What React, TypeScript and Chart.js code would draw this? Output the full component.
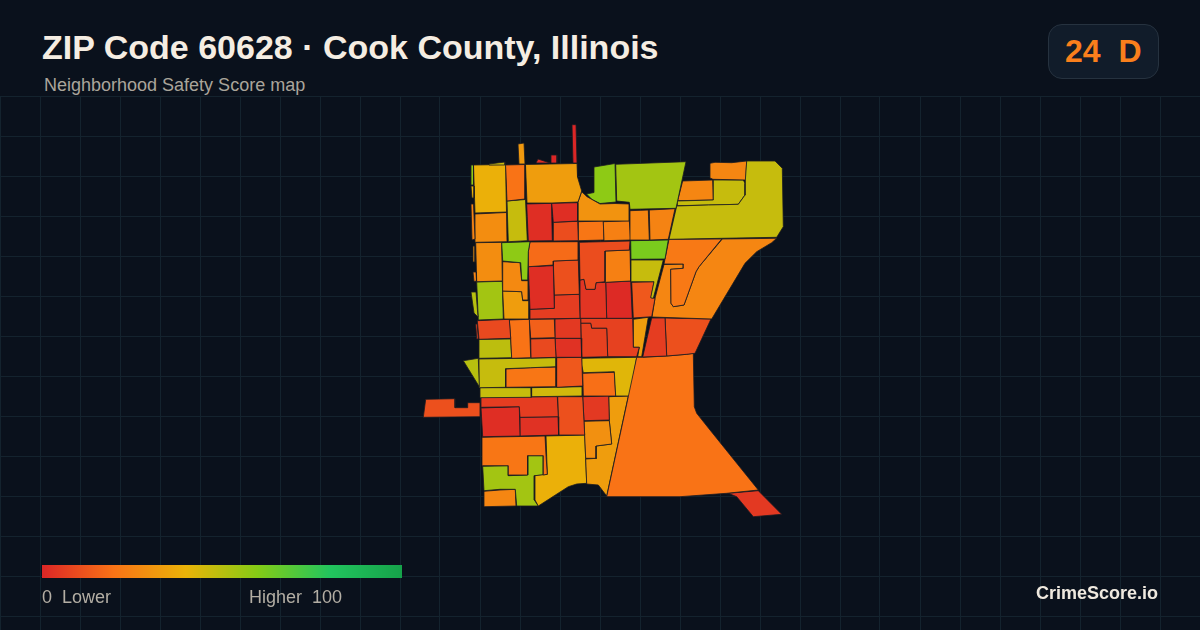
import React, { useEffect, useRef } from "react";
import { Chart, registerables } from "chart.js";

Chart.register(...registerables);

const gridColumnsStep = 40;
const gridRows = [96, 136, 176, 216, 256, 296, 336, 376, 416, 456, 496, 536, 576, 616];
const rampStops = ["#dc2626", "#f97316", "#eab308", "#84cc16", "#22c55e", "#16a34a"];
const title = "ZIP Code 60628 · Cook County, Illinois";
const subtitle = "Neighborhood Safety Score map";
const badge = "24  D";
const legendLow = "0  Lower";
const legendHigh = "Higher  100";
const brand = "CrimeScore.io";

// [safety score, boundary ring] per neighbourhood block, in map units
const tracts: [number, number[][]][] = [
  [58, [[471,165],[473.5,165],[473.5,185],[471,185]]],
  [40, [[471,186],[474,186],[474,198],[472,198]]],
  [46, [[489,164],[505,162],[505,165],[489,165]]],
  [39, [[473.5,165],[505.5,164.5],[506.5,212],[475,213]]],
  [20, [[505.5,165],[525,164.5],[525,199],[507,201]]],
  [32, [[518,144],[524,143],[525,164],[519,164]]],
  [2, [[536,163],[538,159],[550,163]]],
  [0, [[551,155],[557,155],[557,163],[551,163]]],
  [0, [[572,124.7],[576,124.7],[577,163],[573,163]]],
  [25, [[471,204],[473.5,204],[475,239],[472,240]]],
  [33, [[525.5,164.5],[577,163.5],[577.5,177],[581.7,191],[578,202],[552,203],[527,203]]],
  [30, [[473,246],[475,246],[475,262],[473,262]]],
  [25, [[473,272],[476,272],[476.5,281],[474,281.5]]],
  [50, [[471,292],[476,292],[478,317],[474,313]]],

  [28, [[475,214],[506.5,212.5],[507,241.7],[475.7,242.3]]],
  [47, [[507,201],[525.5,199.5],[527.3,240.7],[508.3,241.7]]],
  [2, [[526.7,204],[551.5,203.3],[552.3,240.7],[528.3,241]]],
  [2, [[551.7,203.3],[577.7,202.7],[577.7,221],[553.3,222.3]]],
  [10, [[553.3,222.3],[577.7,221.3],[578.3,240.7],[553.3,241]]],
  [30, [[578,202],[581.7,191.7],[587,196.7],[600,204],[615,203.5],[629.3,204],[629.3,221],[578,221]]],
  [58, [[594,167],[615,163.5],[616,202],[600,203.5],[592,199.5],[586.5,194],[594,192.5]]],
  [54, [[615.7,164.3],[686,161.7],[676,208.3],[630,209.3],[629.3,202.3],[616.7,201]]],
  [26, [[630,210.7],[648.3,210],[649.3,240],[630.7,240]]],
  [25, [[649.3,210],[675,208.7],[668.3,239.3],[650,240]]],
  [24, [[603.3,221.7],[629.3,220.7],[630.7,240],[604,240.7]]],
  [21, [[578.3,221.7],[603.3,221],[604,240],[578.3,240.7]]],

  [62, [[630.7,240.7],[668.3,240],[665,259],[631,259.3]]],
  [47, [[631,260],[663.3,260],[653.3,298.3],[650.7,297.7],[654,281.7],[631.7,281.7]]],
  [13, [[631.7,282.3],[654,281.7],[651,297.7],[655,298.3],[651.7,316.7],[633.3,318]]],
  [47, [[746.7,161],[775,161],[782.3,168.3],[783.3,226.7],[776.7,237.3],[721.7,238.3],[669,239.3],[676.7,206],[708.3,205],[738.3,204.3],[745,195],[745,183],[745.7,180]]],
  [26, [[710,163.3],[715,162.3],[731.7,162.7],[746.7,161],[745.7,180],[713,179.3],[710.7,178.3]]],
  [47, [[713.3,180],[743.3,180],[745,183.3],[745,195],[738.3,204.3],[708.3,205],[677.3,205.7],[677.3,201],[713.3,200]]],
  [26, [[682.7,181],[712.7,180],[713.3,200],[677.7,200.7]]],
  [22, [[669,239.3],[721.7,239],[699,266.7],[696,271.7],[684,305],[673.3,306.7],[671,303.3],[670.7,269.3],[683.3,268.3],[683.3,264],[664,264]]],
  [26, [[664,264.5],[683.3,264],[683.3,268.3],[670.7,269.3],[671,303.3],[673.3,306.7],[684,305],[696,271.7],[699,266.7],[722.3,239],[776.7,238.3],[771.7,242.7],[756.7,251.7],[745,263.3],[711.7,319],[652,317],[655,298.3]]],
  [6, [[651.7,318],[665,318],[666.7,356],[642.7,357]]],
  [11, [[665,318],[711,319],[695,353.3],[686.7,354.3],[666.7,356]]],

  [20, [[636.7,357.3],[642.7,357.3],[666.7,356],[686.7,354.3],[693.3,353.3],[694.3,406.7],[696.7,413.3],[710,430],[758.3,490],[726.7,493.3],[680,496.7],[606.7,496.7],[628.3,396.7]]],
  [5, [[728.3,493.3],[758.3,490.7],[781.7,514.3],[753.3,516.7],[736.7,496.7]]],

  [58, [[501.7,242.7],[530,241.7],[528.3,251.7],[527.7,280],[521.7,280],[520.7,262.7],[502.7,261]]],
  [18, [[530,242],[578.3,241.7],[578.3,260],[553.3,261],[553.3,265],[528.3,266.7],[528.3,251.7]]],
  [2, [[528.3,266.7],[553.3,265.7],[554.3,308.3],[530,309.3]]],
  [11, [[553.3,261],[578.3,260],[579.3,294.3],[554.3,295]]],
  [6, [[554.3,295],[579.3,294.3],[580,318.3],[530,319],[530,309.3],[554.3,308.3]]],
  [27, [[502.7,261.7],[520,262.7],[521.7,280.7],[528.3,280.7],[528.3,300],[522.7,300],[521.7,291.7],[502.7,291]]],
  [33, [[502.7,291],[521.7,291.7],[522.7,300.7],[529,300.7],[529,319],[504,319]]],
  [28, [[475.7,242.7],[501.7,242.3],[502.3,281],[476.7,281.7]]],
  [54, [[476.7,282],[502.3,281.3],[503.3,319],[478.3,320]]],

  [10, [[579.3,242.3],[630,241],[629.3,250],[605,251],[605,281.7],[596,282.7],[595,289.3],[586,289.3],[584,279.3],[580,280]]],
  [24, [[605,251],[630,250],[630.7,281],[605.7,282.3]]],
  [4, [[580,280],[584,279.3],[586,289.3],[595,289.3],[596,282.7],[605.7,282.3],[606.7,318.3],[580.7,318.3]]],
  [1, [[605.7,282.3],[630.7,281],[632.3,318.3],[606.7,318.3]]],

  [9, [[477.3,320.7],[509.3,319.3],[510.7,338.3],[479,339.3]]],
  [7, [[475.7,324],[477.3,324],[478.3,339],[476.7,339]]],
  [20, [[509.3,320],[529.3,319.3],[530.7,357.7],[511.7,358.3],[510.7,338.3]]],
  [49, [[479,339.3],[510.7,339],[511.7,357.7],[479.3,358.3]]],
  [15, [[529.3,319.3],[554.3,319],[555,337.7],[530.7,338.3]]],
  [9, [[530.7,339],[555,338.3],[556,357.3],[531,358]]],
  [5, [[555,319],[580.7,318.3],[581,338.3],[555,338.3]]],
  [3, [[555,338.3],[581,338.3],[581.7,357.3],[556,357.3]]],
  [7, [[580.7,323.3],[590.7,323.3],[591.7,328.3],[606.7,328.3],[607.7,356.7],[581.7,357.3]]],
  [7, [[580.7,318.3],[632.7,318.3],[633.3,347.3],[639.3,347.3],[636.7,356.7],[607.7,356.7],[606.7,328.3],[591.7,328.3],[590.7,323.3],[580.7,323.3]]],
  [33, [[633.3,319.3],[648.3,317.3],[641.7,356.7],[637.7,356.7],[639.3,347.3],[633.3,347.3]]],

  [50, [[463.3,360.7],[478.3,358.3],[479.3,386.7]]],
  [47, [[479,359],[556,357.7],[556,366.7],[530.7,367.7],[505.7,368.7],[505.7,387.3],[479.7,387.7]]],
  [21, [[505.7,369],[530.7,367.7],[556,367],[556,386.7],[505.7,387.3]]],
  [13, [[556.7,357.7],[581.7,357.3],[582.7,386],[556.7,387.3]]],
  [42, [[581.7,358.3],[636.7,357.3],[630,396],[615.7,396],[614.3,371.7],[583.3,372.7],[581.7,365]]],
  [19, [[582.7,373.3],[614.3,372.3],[615.7,396],[583.3,396]]],
  [47, [[480,387.7],[531,387.7],[531.3,397.3],[480.7,397.7]]],
  [45, [[531.7,387.7],[582.3,386.7],[582.3,396],[531.7,396.7]]],

  [6, [[481,397.3],[557.3,396.7],[558.3,416.7],[520,417.3],[519.3,406.7],[481,407.3]]],
  [2, [[481,408],[519.3,406.7],[520,436],[482.7,436.7]]],
  [3, [[520,417.3],[558,416.7],[558.7,435],[520,436]]],
  [11, [[557.7,396.7],[582.7,396.7],[584.7,435],[558.7,435]]],
  [5, [[582.7,396.7],[608.7,396],[609.3,420],[584,420.7]]],
  [29, [[584,421.3],[609.3,420.7],[611.7,444],[596,446],[596,458.3],[585.7,458.3]]],
  [33, [[608.7,396.7],[628.3,396],[606.7,496],[598.3,485],[586.7,484],[585.7,459],[596.7,458.3],[596,446],[611.7,444],[609.3,420.7]]],
  [21, [[482,437.3],[545,436],[546,455],[547.3,474.3],[543.3,475],[543.3,455.7],[527.7,455.7],[527.7,475],[508.3,475],[508.3,465.7],[482.7,465.7]]],
  [39, [[546,436],[584.7,435],[586.7,483.3],[576.7,484],[568.3,486.7],[538.3,506],[535,500],[535,475.7],[547.3,474.3]]],
  [54, [[482.7,466.3],[508.3,465.7],[508.3,475.7],[527.7,475],[527.7,455.7],[543.3,455.7],[543.3,475],[534.3,475.7],[534.3,500],[538.3,506],[516.7,506],[515.3,489.3],[500,489.3],[484,490.7]]],
  [26, [[484,491.3],[500,490],[515.3,489.3],[516,506],[484,506.7]]],
  [11, [[425.7,399.3],[455,398.7],[455,407.7],[467.7,407.7],[467.7,402.7],[480.3,402.7],[480.3,416.7],[423.3,417.3]]],
];

function hexToRgb(hex: string) {
  return [1, 3, 5].map((i) => parseInt(hex.slice(i, i + 2), 16));
}

function scoreColor(score: number) {
  const t = Math.max(0, Math.min(99.999, score)) / 20;
  const i = Math.floor(t);
  const a = hexToRgb(rampStops[i]);
  const b = hexToRgb(rampStops[i + 1]);
  const c = a.map((v, k) => Math.round(v + (b[k] - v) * (t - i)));
  return `rgb(${c[0]},${c[1]},${c[2]})`;
}

const font = '"Liberation Sans", Arial, sans-serif';

export default function App() {
  const ref = useRef<HTMLCanvasElement | null>(null);

  useEffect(() => {
    document.body.style.margin = "0";
    document.body.style.background = "#0a111c";
    const datasets = tracts.map(([score, ring]) => ({
      data: [...ring, ring[0]].map(([x, y]) => ({ x, y })),
      showLine: true,
      fill: "shape",
      tension: 0,
      pointRadius: 0,
      borderWidth: 0.8,
      borderColor: "#1c1c22",
      backgroundColor: scoreColor(score),
    }));
    const chart = new Chart(ref.current as HTMLCanvasElement, {
      type: "scatter",
      data: { datasets: datasets as any },
      options: {
        animation: false,
        responsive: false,
        devicePixelRatio: 1,
        layout: { padding: 0 },
        plugins: { legend: { display: false }, tooltip: { enabled: false }, title: { display: false } },
        scales: {
          x: {
            type: "linear",
            min: 0,
            max: 1200,
            ticks: { display: false, stepSize: gridColumnsStep },
            grid: { color: "#14232e", lineWidth: 1, drawTicks: false },
            border: { display: false },
          },
          y: {
            type: "linear",
            reverse: true,
            min: 96,
            max: 630,
            afterBuildTicks: (axis: any) => {
              axis.ticks = gridRows.map((value) => ({ value }));
            },
            ticks: { display: false },
            grid: { color: "#14232e", lineWidth: 1, drawTicks: false },
            border: { display: false },
          },
        },
      },
    } as any);
    return () => chart.destroy();
  }, []);

  const abs = (o: React.CSSProperties): React.CSSProperties => ({
    position: "absolute",
    fontFamily: font,
    whiteSpace: "pre",
    lineHeight: 1,
    ...o,
  });

  return (
    <div style={{ position: "relative", width: 1200, height: 630, overflow: "hidden", background: "#0a111c" }}>
      <canvas ref={ref} width={1200} height={534} style={{ position: "absolute", left: 0, top: 96, width: 1200, height: 534 }} />
      <div style={abs({ left: 42, top: 29.5, fontSize: 34, fontWeight: 700, color: "#f5ede2" })}>{title}</div>
      <div style={abs({ left: 44, top: 76, fontSize: 18, color: "#aaa59b" })}>{subtitle}</div>
      <div
        style={{
          position: "absolute",
          left: 1048,
          top: 24,
          width: 109,
          height: 53,
          borderRadius: 14,
          background: "#111c2a",
          border: "1px solid #26323f",
        }}
      />
      <div style={abs({ left: 1065, top: 35, fontSize: 32, fontWeight: 700, color: "#f97f1c" })}>{badge}</div>
      <div
        style={{
          position: "absolute",
          left: 42,
          top: 565,
          width: 360,
          height: 13,
          background: `linear-gradient(90deg, ${rampStops.join(", ")})`,
        }}
      />
      <div style={abs({ left: 42, top: 588, fontSize: 18, color: "#b3aea4" })}>{legendLow}</div>
      <div style={abs({ left: 249, top: 588, fontSize: 18, color: "#b3aea4" })}>{legendHigh}</div>
      <div style={abs({ left: 1036, top: 584, fontSize: 18, fontWeight: 700, color: "#efe9df" })}>{brand}</div>
    </div>
  );
}
